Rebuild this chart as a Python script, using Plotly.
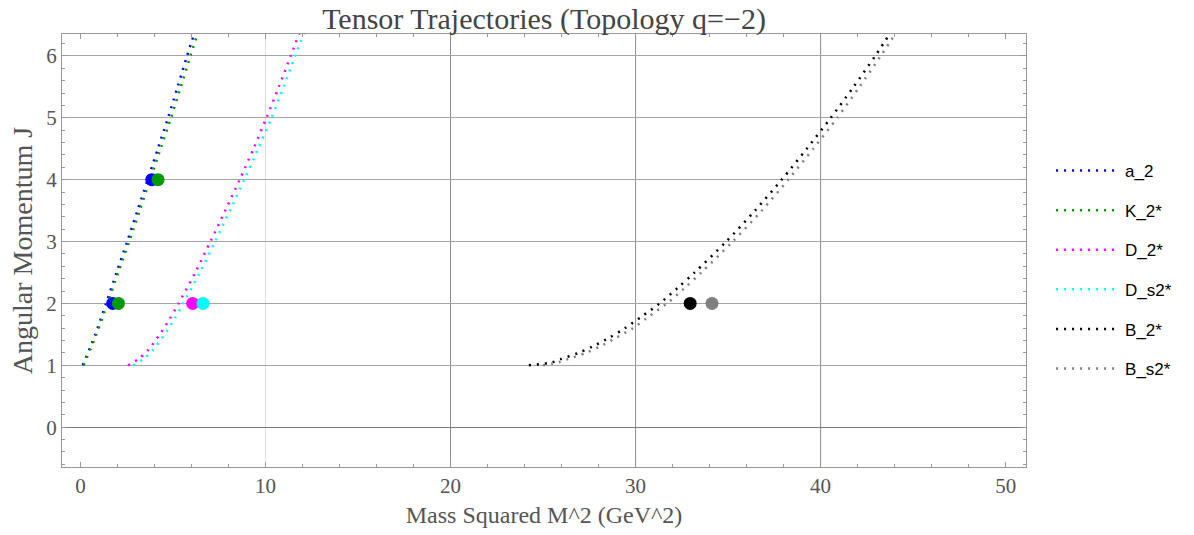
import plotly.graph_objects as go

# ---- data ----
J_line = [1.0, 1.5, 2.0, 2.5, 3.0, 3.5, 4.0, 4.5, 5.0, 5.5, 6.0, 6.5]
a2_m2 = [0.12, 0.80, 1.38, 1.95, 2.52, 3.08, 3.63, 4.18, 4.73, 5.25, 5.76, 6.30]
K2_m2 = [0.17, 0.86, 1.46, 2.04, 2.63, 3.20, 3.76, 4.33, 4.89, 5.42, 5.94, 6.48]

J_charm = [1.0, 1.1, 1.25, 1.5, 1.75, 2.0, 2.5, 3.0, 3.5, 4.0, 4.5, 5.0, 5.5, 6.0, 6.5]
D2_m2 = [2.57, 3.12, 3.66, 4.28, 4.82, 5.30, 6.20, 7.02, 7.82, 8.60, 9.35, 10.05, 10.72, 11.36, 12.00]
Ds2_m2 = [2.85, 3.40, 3.92, 4.55, 5.08, 5.55, 6.45, 7.27, 8.07, 8.85, 9.60, 10.32, 10.98, 11.60, 12.25]

J_bottom = [1.0, 1.05, 1.1, 1.2, 1.3, 1.45, 1.6, 1.8, 2.0, 2.25, 2.5, 3.0, 3.5, 4.0, 4.5, 5.0, 5.5, 6.0, 6.5]
B2_m2 = [24.23, 25.50, 25.95, 26.90, 27.65, 28.60, 29.42, 30.38, 31.30, 32.27, 33.19, 34.90,
         36.45, 37.90, 39.25, 40.55, 41.78, 42.95, 44.05]
Bs2_m2 = [25.00, 25.85, 26.33, 27.30, 28.05, 28.97, 29.85, 30.77, 31.70, 32.65, 33.55, 35.25,
          36.82, 38.25, 39.60, 40.90, 42.10, 43.25, 44.35]

# observed states
a2_pts_m2, a2_pts_J = [1.74, 3.85], [2, 4]
K2_pts_m2, K2_pts_J = [2.05, 4.19], [2, 4]
D2_pts_m2, D2_pts_J = [6.06], [2]
Ds2_pts_m2, Ds2_pts_J = [6.62], [2]
B2_pts_m2, B2_pts_J = [32.95], [2]
Bs2_pts_m2, Bs2_pts_J = [34.13], [2]

names = ["a_2", "K_2*", "D_2*", "D_s2*", "B_2*", "B_s2*"]
colors = ["#0000ff", "#009a00", "#ff00ff", "#00ffff", "#000000", "#808080"]

lines = [(a2_m2, J_line), (K2_m2, J_line), (D2_m2, J_charm), (Ds2_m2, J_charm),
         (B2_m2, J_bottom), (Bs2_m2, J_bottom)]
points = [(a2_pts_m2, a2_pts_J), (K2_pts_m2, K2_pts_J), (D2_pts_m2, D2_pts_J),
          (Ds2_pts_m2, Ds2_pts_J), (B2_pts_m2, B2_pts_J), (Bs2_pts_m2, Bs2_pts_J)]

fig = go.Figure()
for name, col, (xs, ys) in zip(names, colors, lines):
    fig.add_trace(go.Scatter(
        x=xs, y=ys, mode="lines", name=name, legendgroup=name,
        line=dict(color=col, width=2.5, dash="2px,6px", shape="spline", smoothing=0.8),
    ))
for name, col, (xs, ys) in zip(names, colors, points):
    fig.add_trace(go.Scatter(
        x=xs, y=ys, mode="markers", name=name, legendgroup=name, showlegend=False,
        marker=dict(color=col, size=13, line=dict(width=0)),
    ))

# vertical grid lines (as in the reference: 10 light, 20/30/40 darker)
for gx, gc in [(10, "#dddddd"), (20, "#8c8c8c"), (30, "#8c8c8c"), (40, "#8c8c8c")]:
    fig.add_shape(type="line", xref="x", yref="y domain", x0=gx, x1=gx, y0=0, y1=1,
                  line=dict(color=gc, width=1), layer="below")

serif = "Liberation Serif, Times New Roman, serif"
axis_common = dict(
    showline=True, linecolor="#999999", linewidth=1, mirror="ticks",
    ticks="inside", tickcolor="#999999", ticklen=5,
    tickfont=dict(family=serif, size=21, color="#555555"),
)

fig.update_layout(
    width=1194, height=535,
    margin=dict(l=62, r=168, t=34, b=66),
    paper_bgcolor="white", plot_bgcolor="white",
    title=dict(text="Tensor Trajectories (Topology q=\u22122)", x=(62 + 1026) / 2 / 1194, xanchor="center",
               y=1 - 18 / 535, yanchor="middle", yref="container",
               font=dict(family=serif, size=30, color="#444444")),
    xaxis=dict(range=[-1.0, 51.1], tickvals=[0, 10, 20, 30, 40, 50], showgrid=False, zeroline=False,
               minor=dict(dtick=2, tick0=0, ticks="inside", ticklen=3, tickcolor="#999999", showgrid=False),
               title=dict(text="Mass Squared M^2 (GeV^2)", standoff=8,
                          font=dict(family=serif, size=24, color="#555555")),
               **axis_common),
    yaxis=dict(range=[-0.643, 6.354], tickvals=[0, 1, 2, 3, 4, 5, 6], showgrid=True,
               gridcolor="#a6a6a6", gridwidth=1,
               zeroline=True, zerolinecolor="#7a7a7a", zerolinewidth=1,
               minor=dict(dtick=0.2, tick0=0, ticks="inside", ticklen=3, tickcolor="#999999", showgrid=False),
               title=dict(text="Angular Momentum J", standoff=5,
                          font=dict(family=serif, size=28, color="#555555")),
               **axis_common),
    legend=dict(x=1.026, xanchor="left", y=0.455, yanchor="middle",
                font=dict(family="Liberation Sans, Arial, sans-serif", size=17, color="#000000"),
                tracegroupgap=14.5, itemwidth=64, bgcolor="rgba(0,0,0,0)"),
    showlegend=True,
)

fig.write_html("out.html")
